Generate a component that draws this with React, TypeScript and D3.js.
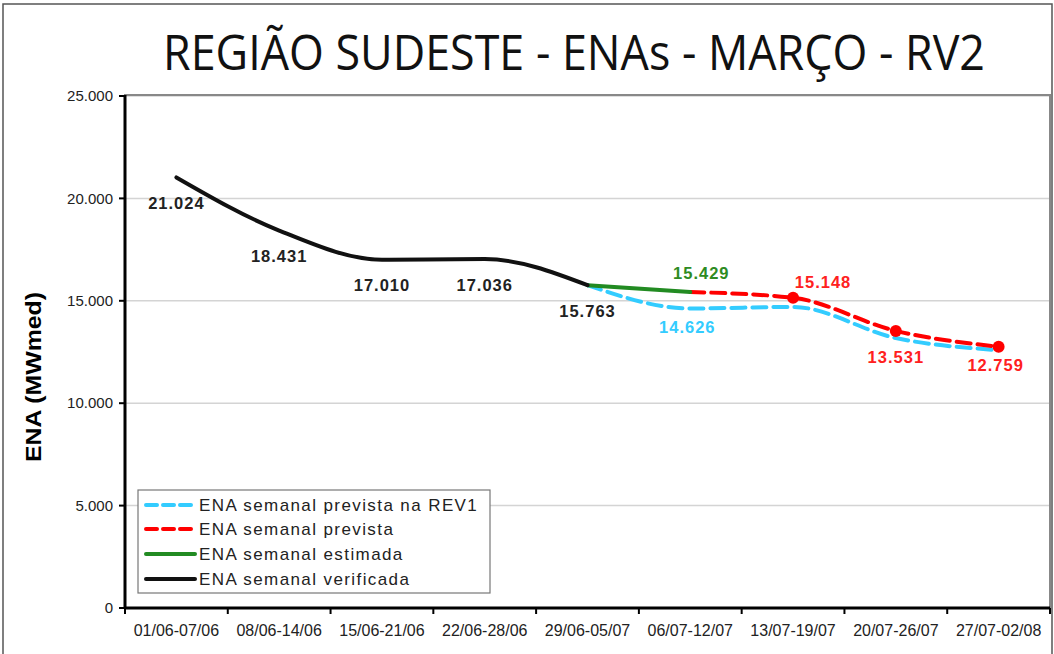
import React from 'react';
import * as d3 from 'd3';

const categories = [
  '01/06-07/06', '08/06-14/06', '15/06-21/06', '22/06-28/06', '29/06-05/07',
  '06/07-12/07', '13/07-19/07', '20/07-26/07', '27/07-02/08',
];
const verificada: (number | null)[] = [21024, 18431, 17010, 17036, 15763, null, null, null, null];
const estimada: (number | null)[] = [null, null, null, null, 15763, 15429, null, null, null];
const prevista: (number | null)[] = [null, null, null, null, null, 15429, 15148, 13531, 12759];
const previstaRev1: (number | null)[] = [null, null, null, null, 15763, 14626, 14700, 13180, 12590];
const yTicks = [0, 5000, 10000, 15000, 20000, 25000];

const seriesNames = [
  'ENA semanal prevista na REV1',
  'ENA semanal prevista',
  'ENA semanal estimada',
  'ENA semanal verificada',
];

// which points carry a data label, and where it sits relative to the point
const labelPoints = [
  { s: 3, i: 0, pos: 'below' },
  { s: 3, i: 1, pos: 'below' },
  { s: 3, i: 2, pos: 'below' },
  { s: 3, i: 3, pos: 'below' },
  { s: 3, i: 4, pos: 'below' },
  { s: 2, i: 5, pos: 'aboveRight' },
  { s: 0, i: 5, pos: 'belowSmall' },
  { s: 1, i: 6, pos: 'right' },
  { s: 1, i: 7, pos: 'below' },
  { s: 1, i: 8, pos: 'belowSmall' },
];
const markerPoints = [6, 7, 8];

const W = 1054;
const H = 654;
const M = { left: 125, right: 1050, top: 96, bottom: 608 };

const COLORS = ['#33CCFF', '#FF0000', '#228B22', '#111111'];
const LABEL_COLORS = ['#33CCFF', '#FF2020', '#2E8B22', '#222222'];
const DASH = ['14 7', '14 7', null, null];
const FONT = '"Liberation Sans", Arial, sans-serif';

const locale = d3.formatLocale({ decimal: ',', thousands: '.', grouping: [3], currency: ['R$', ''] });
const fmt = locale.format(',d');

const OFFSETS: Record<string, [number, number]> = {
  below: [0, 26],
  belowSmall: [-3, 19],
  aboveRight: [11, -19],
  right: [30, -16],
};

export default function App() {
  const allSeries = [previstaRev1, prevista, estimada, verificada];
  const x = d3.scaleBand<string>().domain(categories).range([M.left, M.right]).padding(0);
  const cx = (i: number) => (x(categories[i]) as number) + x.bandwidth() / 2;
  const y = d3.scaleLinear().domain([0, 25000]).range([M.bottom, M.top]);

  const line = d3
    .line<number | null>()
    .defined((d) => d !== null)
    .x((_, i) => cx(i))
    .y((d) => y(d as number))
    .curve(d3.curveMonotoneX);

  const legendY = [505, 529, 554, 579];

  return (
    <svg width={W} height={H} style={{ position: 'absolute', left: 0, top: 0, background: '#fff' }}>
      <rect x={0} y={0} width={W} height={H} fill="#fff" />
      {/* outer frame */}
      <rect x={3} y={4} width={1049} height={660} fill="none" stroke="#555" strokeWidth={1.5} />

      {/* title */}
      <text
        x={574}
        y={70}
        textAnchor="middle"
        fontFamily='"Open Sans", "Noto Sans", sans-serif'
        fontSize={49}
        textLength={822}
        lengthAdjust="spacingAndGlyphs"
        fill="#111"
      >
        REGIÃO SUDESTE - ENAs - MARÇO - RV2
      </text>

      {/* gridlines */}
      {yTicks.filter((t) => t > 0).map((t) => (
        <line key={t} x1={M.left} x2={M.right} y1={y(t)} y2={y(t)} stroke="#d4d4d4" strokeWidth={1.5} />
      ))}
      {/* plot border */}
      <rect x={M.left} y={M.top - 1} width={M.right - M.left} height={M.bottom - M.top + 1} fill="none" stroke="#888" strokeWidth={2} />

      {/* y axis */}
      <line x1={M.left} x2={M.left} y1={M.top - 1} y2={M.bottom + 1} stroke="#000" strokeWidth={3} />
      {yTicks.map((t) => (
        <g key={t}>
          <line x1={M.left - 6} x2={M.left} y1={y(t)} y2={y(t)} stroke="#000" strokeWidth={2} />
          <text x={113} y={y(t)} dy="0.35em" textAnchor="end" fontFamily={FONT} fontSize={15} fill="#222">
            {fmt(t)}
          </text>
        </g>
      ))}
      <text
        transform={`translate(33,${377}) rotate(-90)`}
        textAnchor="middle"
        dy="0.35em"
        fontFamily={FONT}
        fontWeight="bold"
        fontSize={22}
        textLength={170}
        lengthAdjust="spacingAndGlyphs"
        fill="#000"
      >
        ENA (MWmed)
      </text>

      {/* x axis */}
      <line x1={M.left} x2={M.right} y1={M.bottom} y2={M.bottom} stroke="#000" strokeWidth={3} />
      {categories.map((c, i) => (
        <g key={c}>
          <line
            x1={(x(c) as number) + x.bandwidth()}
            x2={(x(c) as number) + x.bandwidth()}
            y1={M.bottom}
            y2={M.bottom + 6}
            stroke="#000"
            strokeWidth={2}
          />
          {i === 0 && <line x1={M.left} x2={M.left} y1={M.bottom} y2={M.bottom + 6} stroke="#000" strokeWidth={2} />}
          <text x={cx(i)} y={630} dy="0.35em" textAnchor="middle" fontFamily={FONT} fontSize={16} fill="#222">
            {c}
          </text>
        </g>
      ))}

      {/* series lines */}
      {allSeries.map((s, si) => (
        <path
          key={si}
          d={line(s) || ''}
          fill="none"
          stroke={COLORS[si]}
          strokeWidth={4}
          strokeDasharray={DASH[si] || undefined}
          strokeLinecap="round"
          strokeLinejoin="round"
        />
      ))}
      {markerPoints.map((i) => (
        <circle key={i} cx={cx(i)} cy={y(prevista[i] as number)} r={6} fill={COLORS[1]} />
      ))}

      {/* data labels */}
      {labelPoints.map((p, k) => {
        const v = allSeries[p.s][p.i] as number;
        const [dx, dy] = OFFSETS[p.pos];
        return (
          <text
            key={k}
            x={cx(p.i) + dx}
            y={y(v) + dy}
            dy="0.35em"
            textAnchor="middle"
            fontFamily={FONT}
            fontWeight="bold"
            fontSize={16.5}
            letterSpacing={1}
            fill={LABEL_COLORS[p.s]}
          >
            {fmt(v)}
          </text>
        );
      })}

      {/* legend */}
      <rect x={138} y={490} width={352} height={103} fill="#fff" stroke="#777" strokeWidth={1.2} />
      {seriesNames.map((n, i) => (
        <g key={n}>
          <line
            x1={146}
            x2={195}
            y1={legendY[i]}
            y2={legendY[i]}
            stroke={COLORS[i]}
            strokeWidth={4}
            strokeDasharray={DASH[i] ? '11 6' : undefined}
            strokeLinecap="round"
          />
          <text x={199} y={legendY[i]} dy="0.35em" fontFamily={FONT} fontSize={17} letterSpacing={1.4} fill="#222">
            {n}
          </text>
        </g>
      ))}
    </svg>
  );
}
